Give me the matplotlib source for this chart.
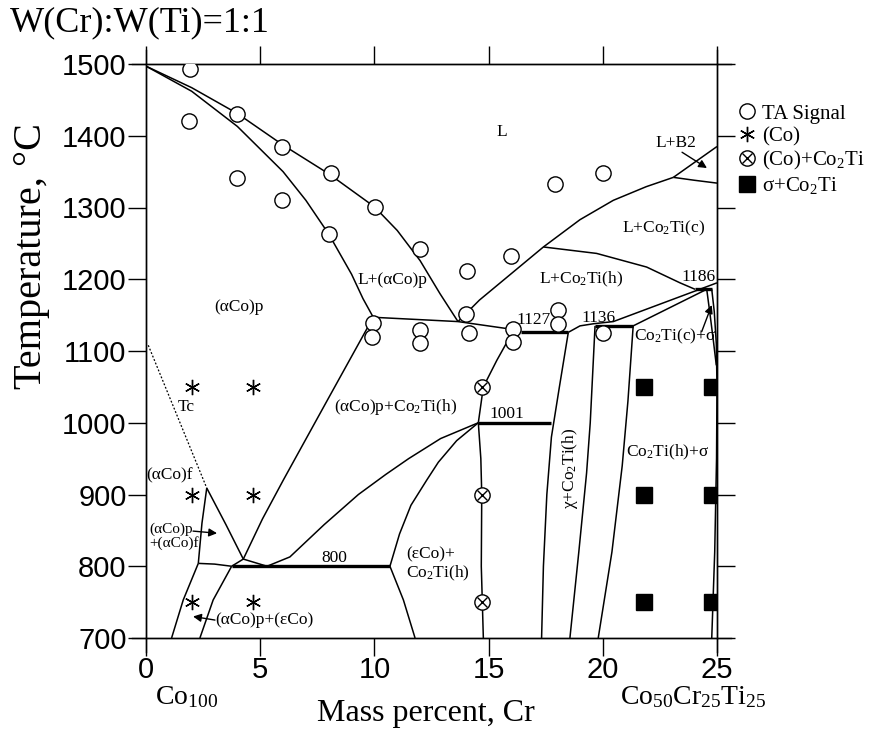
import matplotlib
matplotlib.use("Agg")
import matplotlib.pyplot as plt
from matplotlib.lines import Line2D
from matplotlib.legend_handler import HandlerTuple

plt.rcParams["font.family"] = ["Liberation Serif", "DejaVu Serif"]
plt.rcParams["mathtext.fontset"] = "custom"
plt.rcParams["mathtext.rm"] = "Liberation Serif"
plt.rcParams["mathtext.it"] = "Liberation Serif:italic"

# ---------------- experimental points ----------------
ta_x = [1.93, 1.9, 4.0, 3.97, 5.94, 5.94, 8.08, 8.01, 10.03, 12.0,
        9.95, 9.88, 12.0, 12.0, 14.05, 16.0, 17.9, 20.0,
        14.01, 14.16, 16.08, 16.08, 18.05, 18.05, 20.02]
ta_t = [1493, 1421, 1431, 1341, 1385, 1310, 1348, 1263, 1301, 1242,
        1139, 1120, 1129, 1111, 1212, 1233, 1333, 1348,
        1151, 1125, 1130, 1113, 1157, 1138, 1125]

co_x = [2.0, 4.7, 2.0, 4.7, 2.0, 4.7]
co_t = [1050, 1050, 900, 900, 750, 750]

co_co2ti_x = [14.7, 14.7, 14.7]
co_co2ti_t = [1050, 900, 750]

sigma_x = [21.8, 24.8, 21.8, 24.8, 21.8, 24.8]
sigma_t = [1050, 1050, 900, 900, 750, 750]

# ---------------- phase boundaries (Cr wt.%, T in C) ----------------
liquidus_aco = [(0, 1497), (2, 1467), (4, 1431), (6, 1387), (8, 1347),
                (10, 1301), (11, 1268), (12, 1226), (12.87, 1180), (13.66, 1141)]
solidus_aco = [(0, 1497), (2, 1462), (4, 1413), (6, 1350), (7, 1310),
               (8, 1263), (9, 1207), (9.5, 1173), (9.95, 1147)]
eutectic_line = [(9.95, 1147), (12.43, 1143), (13.66, 1141), (16.08, 1130), (16.4, 1127)]
liquidus_co2ti = [(13.66, 1141), (14.6, 1171), (16.0, 1208), (17.4, 1245),
                  (19.0, 1283), (20.46, 1310), (21.9, 1329), (23.09, 1342)]
b2_upper = [(23.09, 1342), (25.0, 1385)]
b2_lower = [(23.09, 1342), (24.0, 1338), (25.0, 1334)]
co2ti_hc = [(17.4, 1245), (19.73, 1236), (21.92, 1217), (23.38, 1195), (24.04, 1186)]
rise_upper = [(18.49, 1126), (19.0, 1135), (19.6, 1138), (20.46, 1141), (25.0, 1195)]
rise_lower = [(21.33, 1135), (24.55, 1186)]
right_a = [(24.55, 1186), (24.7, 1150), (24.85, 1112), (24.97, 1080)]
right_b = [(24.77, 1186), (24.88, 1155), (24.97, 1110), (25.0, 1050), (24.98, 950),
           (24.9, 820), (24.77, 700)]
v_ecotop = [(14.55, 1000), (14.77, 1050), (15.36, 1087), (16.08, 1128)]
v_eco = [(14.55, 1000), (14.66, 950), (14.7, 900), (14.68, 800), (14.77, 700)]
v_chi_left = [(18.49, 1126), (18.1, 1050), (17.75, 980), (17.55, 900), (17.4, 800), (17.32, 700)]
v_chi_right = [(19.66, 1135), (19.45, 1000), (19.29, 930), (18.95, 820), (18.56, 700)]
v_sigma = [(21.33, 1135), (21.1, 1030), (20.85, 940), (20.4, 820), (19.8, 700)]
aco_co2ti_left = [(9.95, 1147), (7.95, 1032), (6.01, 920), (5.1, 866), (4.26, 810), (3.75, 800)]
aco_f_right = [(2.66, 909), (3.5, 858), (4.26, 810), (5.3, 800)]
aco_f_left = [(2.66, 909), (2.45, 860), (2.29, 804)]
solvus_a = [(5.3, 800), (6.3, 813), (7.8, 858), (9.3, 900), (10.5, 928),
            (11.5, 950), (12.9, 978), (14.55, 1000)]
solvus_b = [(10.68, 800), (11.1, 845), (11.6, 885), (12.29, 920), (12.8, 945),
            (13.6, 975), (14.55, 1000)]
eco_left = [(10.68, 800), (11.27, 753), (11.78, 700)]
low_mid = [(3.75, 800), (2.94, 753), (2.36, 700)]
low_left = [(2.29, 804), (1.63, 753), (1.12, 700)]
thin_800 = [(2.29, 804), (3.0, 803), (3.75, 800)]
tc_line = [(0.1, 1108), (2.66, 909)]

iso_800 = [(3.75, 800), (10.68, 800)]
iso_1001 = [(14.55, 1000), (17.72, 1000)]
iso_1127 = [(16.4, 1127), (18.49, 1127)]
iso_1136 = [(19.66, 1135), (21.33, 1135)]
iso_1186 = [(24.04, 1186), (24.77, 1186)]

x_ticks = [0, 5, 10, 15, 20, 25]
y_ticks = [700, 800, 900, 1000, 1100, 1200, 1300, 1400, 1500]

# ---------------- figure ----------------
W, H = 874, 730
fig = plt.figure(figsize=(W / 100, H / 100), dpi=100)
ax = fig.add_axes([146 / W, 92 / H, 571 / W, 574 / H])
ax.set_xlim(0, 25)
ax.set_ylim(700, 1500)


def curve(pts, lw=1.1, **kw):
    xs, ts = zip(*pts)
    ax.plot(xs, ts, color="k", lw=lw, solid_capstyle="butt", **kw)


for c in [liquidus_aco, solidus_aco, eutectic_line, liquidus_co2ti, b2_upper, b2_lower,
          co2ti_hc, rise_upper, rise_lower, right_a, right_b, v_ecotop, v_eco,
          v_chi_left, v_chi_right, v_sigma, aco_co2ti_left, aco_f_right, aco_f_left,
          solvus_a, solvus_b, eco_left, low_mid, low_left, thin_800]:
    curve(c)
curve(tc_line, lw=0.9, ls=(0, (1.5, 1.5)))
for c in [iso_800, iso_1001, iso_1127, iso_1136, iso_1186]:
    curve(c, lw=2.4)

# markers
ax.plot(ta_x, ta_t, ls="none", marker="o", ms=11, mfc="white", mec="k", mew=1.0, zorder=4)
ax.plot(co_x, co_t, ls="none", marker=(6, 2, 0), ms=11, mec="k", mew=1.0, zorder=4)
ax.plot(co_co2ti_x, co_co2ti_t, ls="none", marker="o", ms=11, mfc="white", mec="k", mew=1.0, zorder=4)
ax.plot(co_co2ti_x, co_co2ti_t, ls="none", marker="x", ms=7, mec="k", mew=1.0, zorder=5)
ax.plot(sigma_x, sigma_t, ls="none", marker="s", ms=11.5, mfc="k", mec="k", zorder=4)

# phase labels
fs = 12.5
lab = dict(fontsize=fs, ha="center", va="center")
ax.text(15.59, 1405, "L", **lab)
ax.text(23.2, 1390, "L+B2", **lab)
ax.text(10.77, 1199, "L+(αCo)p", **lab)
ax.text(4.07, 1162, "(αCo)p", **lab)
ax.text(1.78, 1022, "Tc", **lab)
ax.text(10.93, 1022, r"(αCo)p+Co$_\mathrm{2}$Ti(h)", **lab)
ax.text(0.0, 927, "(αCo)f", fontsize=fs, ha="left", va="center")
ax.text(0.15, 842, "(αCo)p\n+(αCo)f", fontsize=11, ha="left", va="center", linespacing=1.0)
ax.text(8.23, 811, "800", **lab)
ax.text(3.05, 725, "(αCo)p+(εCo)", fontsize=fs, ha="left", va="center")
ax.text(11.4, 802, "(εCo)+\nCo$_\\mathrm{2}$Ti(h)", fontsize=fs, ha="left", va="center",
        linespacing=1.1)
ax.text(15.8, 1012, "1001", **lab)
ax.text(16.99, 1143, "1127", **lab)
ax.text(19.83, 1146, "1136", **lab)
ax.text(24.21, 1203, "1186", **lab)
ax.text(22.68, 1271, r"L+Co$_\mathrm{2}$Ti(c)", **lab)
ax.text(19.05, 1200, r"L+Co$_\mathrm{2}$Ti(h)", **lab)
ax.text(23.16, 1120, r"Co$_\mathrm{2}$Ti(c)+σ", **lab)
ax.text(18.56, 937, r"χ+Co$_\mathrm{2}$Ti(h)", rotation=90, **lab)
ax.text(22.85, 959, r"Co$_\mathrm{2}$Ti(h)+σ", **lab)

arw = dict(arrowstyle="-|>", color="k", lw=1.0, mutation_scale=12, shrinkA=0, shrinkB=0)
ax.annotate("", xy=(24.56, 1355), xytext=(23.47, 1377), arrowprops=arw)
ax.annotate("", xy=(3.11, 846), xytext=(2.06, 849), arrowprops=arw)
ax.annotate("", xy=(2.06, 730), xytext=(3.02, 725), arrowprops=arw)
ax.annotate("", xy=(24.77, 1164), xytext=(24.33, 1127), arrowprops=arw)

# axes styling
ax.set_xticks(x_ticks)
ax.set_yticks(y_ticks)
ax.set_xticklabels([str(v) for v in x_ticks], family="Liberation Sans", fontsize=21)
ax.set_yticklabels([str(v) for v in y_ticks], family="Liberation Sans", fontsize=21)
ax.tick_params(direction="out", length=13, width=1.0, top=True, right=True)
ax.tick_params(axis="x", pad=0)
ax.tick_params(axis="y", pad=1)
for s in ax.spines.values():
    s.set_linewidth(1.0)
ext = 0.025
for (x0, y0, x1, y1) in [(-ext, 1, 1 + ext, 1), (-ext, 0, 1 + ext, 0),
                         (0, -ext, 0, 1 + ext), (1, -ext, 1, 1 + ext)]:
    ax.plot([x0, x1], [y0, y1], color="k", lw=1.0, transform=ax.transAxes, clip_on=False)

# legend
h_ta = Line2D([], [], ls="none", marker="o", ms=11, mfc="white", mec="k", mew=1.0)
h_co = Line2D([], [], ls="none", marker=(6, 2, 0), ms=11, mec="k", mew=1.0)
h_cc = (Line2D([], [], ls="none", marker="o", ms=11, mfc="white", mec="k", mew=1.0),
        Line2D([], [], ls="none", marker="x", ms=7, mec="k", mew=1.0))
h_sq = Line2D([], [], ls="none", marker="s", ms=11.5, mfc="k", mec="k")
ax.legend([h_ta, h_co, h_cc, h_sq],
          ["TA Signal", "(Co)", r"(Co)+Co$_\mathrm{2}$Ti", r"σ+Co$_\mathrm{2}$Ti"],
          handler_map={tuple: HandlerTuple(ndivide=1)},
          loc="upper left", bbox_to_anchor=(1.035, 0.93), frameon=False,
          fontsize=15, handlelength=1.0, handletextpad=0.2, labelspacing=0.14,
          borderaxespad=0, borderpad=0)

# outer texts
fig.text(10 / W, 1 - 23 / H, "W(Cr):W(Ti)=1:1", fontsize=26, ha="left", va="center")
fig.text(32 / W, 1 - 256 / H, "Temperature, °C", fontsize=29, rotation=90,
         ha="center", va="center")
fig.text(426 / W, 1 - 713 / H, "Mass percent, Cr", fontsize=23, ha="center", va="center")
fig.text(155 / W, 1 - 697 / H, r"Co$_\mathrm{100}$", fontsize=20, ha="left", va="center")
fig.text(620 / W, 1 - 697 / H, r"Co$_\mathrm{50}$Cr$_\mathrm{25}$Ti$_\mathrm{25}$",
         fontsize=20, ha="left", va="center")

fig.savefig("out.png", dpi=100)
